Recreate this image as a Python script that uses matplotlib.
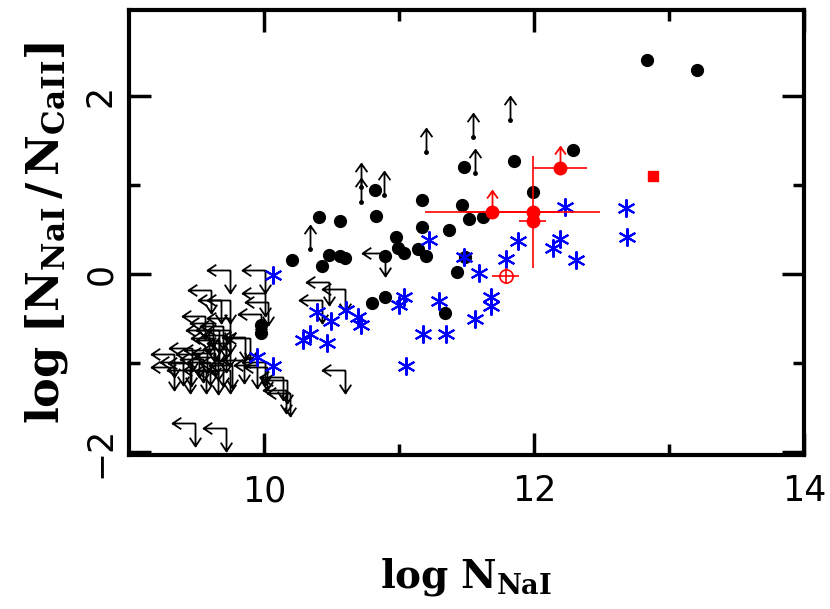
import numpy as np
import matplotlib
matplotlib.use("Agg")
from matplotlib import pyplot as plt
from matplotlib.path import Path

plt.rcParams['mathtext.fontset'] = 'dejavuserif'

# upper limits (black, arrows left + down)
ul_x = [9.75, 10.01, 9.61, 10.01, 10.03, 9.75, 9.68, 9.56, 9.75, 9.98,
        9.62, 9.70, 9.59, 9.67, 9.75, 9.72, 9.67, 9.75, 9.86, 9.63,
        9.33, 9.47, 9.58, 9.52, 9.64, 9.72, 9.40, 9.46, 9.60, 9.70,
        9.76, 9.55, 9.66, 9.33, 9.45, 9.57, 9.66, 9.75, 9.95, 10.01,
        9.85, 10.02, 10.14, 10.16, 10.19, 10.17, 9.49, 9.72, 10.48, 10.60,
        10.43, 10.60, 10.90, 9.90]
ul_y = [0.05, 0.05, -0.18, -0.21, -0.31, -0.29, -0.29, -0.47, -0.49, -0.45,
        -0.55, -0.58, -0.63, -0.63, -0.63, -0.68, -0.74, -0.77, -0.70, -0.71,
        -0.89, -0.83, -0.85, -0.90, -0.88, -0.84, -0.99, -1.00, -0.99, -1.00,
        -1.02, -0.95, -0.93, -1.04, -1.08, -1.07, -1.09, -1.08, -1.02, -0.98,
        -0.96, -1.04, -1.15, -1.30, -1.33, -1.19, -1.67, -1.73, -0.09, -0.16,
        -0.29, -1.08, 0.24, -0.72]

# lower limits (black, arrow up)
ll_x = [11.82, 11.55, 11.20, 11.56, 10.72, 10.72, 10.89, 10.34]
ll_y = [1.73, 1.54, 1.37, 1.14, 0.81, 0.98, 0.89, 0.29]

# detections (black dots)
det_x = [11.48, 11.85, 11.99, 10.82, 11.17, 11.47, 10.41, 10.56, 10.83, 11.17,
         11.37, 11.52, 11.62, 10.98, 10.21, 10.48, 10.56, 10.60, 10.43, 10.90,
         10.99, 11.04, 11.14, 11.20, 11.43, 11.49, 12.29, 12.84, 13.21, 10.80,
         10.90, 11.34, 9.98, 9.98]
det_y = [1.21, 1.27, 0.92, 0.95, 0.84, 0.78, 0.64, 0.60, 0.66, 0.53,
         0.50, 0.62, 0.64, 0.42, 0.16, 0.22, 0.21, 0.18, 0.09, 0.21,
         0.30, 0.24, 0.28, 0.21, 0.03, 0.19, 1.40, 2.41, 2.30, -0.32,
         -0.25, -0.44, -0.57, -0.66]

# blue asterisks
ast_x = [11.22, 11.48, 11.59, 11.79, 11.88, 10.07, 11.04, 11.00, 11.30, 11.68,
         11.68, 11.56, 11.18, 11.35, 11.05, 10.39, 10.50, 10.61, 10.70, 10.72,
         10.34, 10.29, 10.47, 9.95, 10.07, 12.23, 12.68, 12.69, 12.19, 12.14,
         12.31]
ast_y = [0.38, 0.19, 0.01, 0.17, 0.37, -0.01, -0.25, -0.35, -0.30, -0.26,
         -0.36, -0.50, -0.67, -0.67, -1.03, -0.42, -0.52, -0.40, -0.48, -0.57,
         -0.67, -0.74, -0.77, -0.93, -1.03, 0.76, 0.74, 0.42, 0.40, 0.30,
         0.16]

# red points with errors
red_x = [11.69, 11.99, 11.99, 12.19]
red_y = [0.70, 0.70, 0.60, 1.20]
red_xerr = [0.5, 0.5, 0.1, 0.2]
red_yerr = [0.0, 0.63, 0.0, 0.0]
red_lim = [True, False, False, True]

red_open_x, red_open_y = [11.79], [-0.02]
red_open_xerr, red_open_yerr = [0.1], [0.09]
red_sq_x, red_sq_y = [12.88], [1.11]

M, L = Path.MOVETO, Path.LINETO
ul_path = Path(
    [(0, 0), (-1, 0), (-0.62, 0.25), (-1, 0), (-0.62, -0.25),
     (0, 0), (0, -1), (-0.25, -0.62), (0, -1), (0.25, -0.62)],
    [M, L, L, M, L, M, L, L, M, L])
up_path = Path(
    [(0, 0), (0, 1), (-0.25, 0.65), (0, 1), (0.25, 0.65)],
    [M, L, L, M, L])

fig = plt.figure(figsize=(8.3, 6.09), dpi=100)
ax = fig.add_axes([0.1554, 0.2529, 0.8133, 0.7307])

ax.plot(ul_x, ul_y, ls='none', marker=ul_path, ms=33, mfc='none',
        mec='black', mew=1.3)
ax.plot(ll_x, ll_y, ls='none', marker=up_path, ms=34, mfc='none',
        mec='black', mew=1.3)
ax.plot(ll_x, ll_y, ls='none', marker='o', ms=2.5, color='black')
ax.plot(det_x, det_y, ls='none', marker='o', ms=8.5, color='black')
ax.plot(ast_x, ast_y, ls='none', marker=(6, 2, 0), ms=13, mec='blue',
        mew=1.5)

ax.errorbar(red_x, red_y, xerr=red_xerr, yerr=red_yerr, fmt='o', ms=9,
            color='red', ecolor='red', elinewidth=1.2, capsize=0)
lx = [x for x, f in zip(red_x, red_lim) if f]
ly = [y for y, f in zip(red_y, red_lim) if f]
ax.plot(lx, ly, ls='none', marker=up_path, ms=31, mfc='none',
        mec='red', mew=1.3)
ax.errorbar(red_open_x, red_open_y, xerr=red_open_xerr, yerr=red_open_yerr,
            fmt='o', ms=9.5, mfc='none', mec='red', mew=1.2, color='red',
            elinewidth=1.2, capsize=0)
ax.plot(red_sq_x, red_sq_y, ls='none', marker='s', ms=7, color='red')

ax.set_xlim(9, 14)
ax.set_ylim(-2.03, 2.97)
ax.set_xticks([10, 12, 14])
ax.set_xticks([11, 13], minor=True)
ax.set_yticks([-2, 0, 2])
ax.set_yticks([-1, 1], minor=True)
ax.tick_params(which='both', direction='in', top=True, right=True,
               width=2.5, labelsize=25, pad=14)
ax.tick_params(which='major', length=16)
ax.tick_params(which='minor', length=8)
ax.tick_params(axis='y', pad=8)
for lbl in ax.get_yticklabels():
    lbl.set_rotation(90)
    lbl.set_va('center')
for sp in ax.spines.values():
    sp.set_linewidth(3)

ax.set_xlabel(r'$\mathbf{log\ N_{NaI}}$', fontsize=28, labelpad=34)
ax.set_ylabel(r'$\mathbf{log\ [N_{NaI}\,/\,N_{CaII}]}$', fontsize=32,
              labelpad=10)

fig.savefig('out.png', dpi=100)
